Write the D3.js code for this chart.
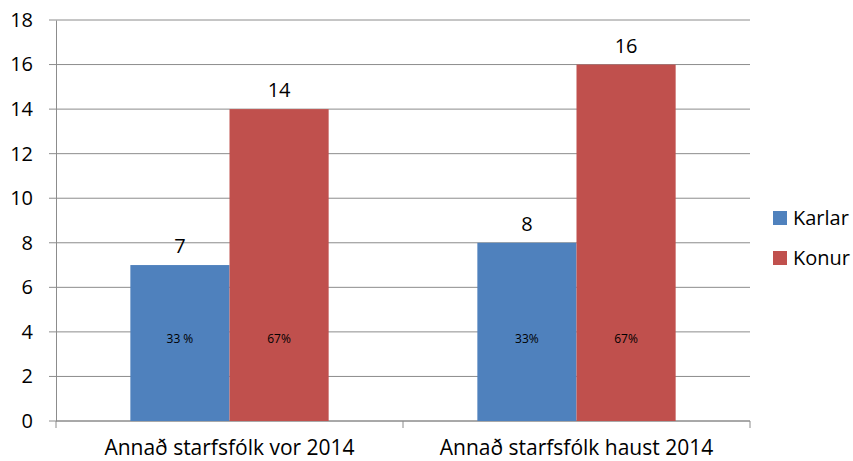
<!DOCTYPE html>
<html>
<head>
<meta charset="utf-8">
<script src="https://cdn.jsdelivr.net/npm/d3@7"></script>
<style>
  body { margin: 0; background: #fff; }
  text { font-family: "Open Sans", sans-serif; fill: #000; }
</style>
</head>
<body>
<div id="content"></div>
<script>
const categories = ["Annað starfsfólk vor 2014", "Annað starfsfólk haust 2014"];
const seriesNames = ["Karlar", "Konur"];
const karlar = [7, 8];
const konur = [14, 16];
const pctKarlar = ["33 %", "33%"];
const pctKonur = ["67%", "67%"];
const yTicks = [0, 2, 4, 6, 8, 10, 12, 14, 16, 18];
const colors = ["#4f81bd", "#c0504d"];

const w = 853, h = 461;
const plotL = 56, plotR = 750, plotT = 20, plotB = 421;

const svg = d3.select("#content").append("svg").attr("width", w).attr("height", h);

const x = d3.scaleBand().domain(categories).range([plotL, plotR]).padding(0);
const y = d3.scaleLinear().domain([0, 18]).range([plotB, plotT]);
const inner = d3.scaleBand().domain(seriesNames).range([0, x.bandwidth()]).paddingInner(0).paddingOuter(0.75);

// gridlines
svg.append("g").selectAll("line").data(yTicks).enter().append("line")
  .attr("x1", plotL - 7).attr("x2", plotR)
  .attr("y1", d => y(d)).attr("y2", d => y(d))
  .attr("stroke", "#8c8c8c").attr("stroke-width", 1);

// y axis
const yAxis = d3.axisLeft(y).tickValues(yTicks).tickSize(0).tickPadding(23);
const gy = svg.append("g").attr("transform", `translate(${plotL},0)`).call(yAxis);
gy.select(".domain").attr("stroke", "#8c8c8c");
gy.selectAll("text").style("font-size", "20px").style("font-family", "'Open Sans', sans-serif").attr("fill", "#000");

// x axis
const gx = svg.append("g").attr("transform", `translate(0,${plotB})`);
gx.append("line").attr("x1", plotL).attr("x2", plotR).attr("stroke", "#8c8c8c");
gx.selectAll(".tk").data([plotL, plotL + x.bandwidth(), plotR]).enter().append("line")
  .attr("x1", d => d).attr("x2", d => d).attr("y1", 0).attr("y2", 7).attr("stroke", "#8c8c8c");
gx.selectAll(".lbl").data(categories).enter().append("text")
  .attr("x", d => x(d) + x.bandwidth() / 2).attr("y", 34)
  .attr("text-anchor", "middle").style("font-size", "21px").text(d => d);

const data = categories.map((c, i) => ({
  cat: c,
  vals: [
    { s: seriesNames[0], v: karlar[i], p: pctKarlar[i] },
    { s: seriesNames[1], v: konur[i], p: pctKonur[i] }
  ]
}));

const groups = svg.selectAll(".grp").data(data).enter().append("g")
  .attr("transform", d => `translate(${x(d.cat)},0)`);

const bars = groups.selectAll("g").data(d => d.vals).enter().append("g");
bars.append("rect")
  .attr("x", d => inner(d.s)).attr("width", inner.bandwidth())
  .attr("y", d => y(d.v)).attr("height", d => plotB - y(d.v))
  .attr("fill", (d, i) => colors[i]);
bars.append("text")
  .attr("x", d => inner(d.s) + inner.bandwidth() / 2).attr("y", d => y(d.v) - 12)
  .attr("text-anchor", "middle").style("font-size", "20px").text(d => d.v);
bars.append("text")
  .attr("x", d => inner(d.s) + inner.bandwidth() / 2).attr("y", 343)
  .attr("text-anchor", "middle").style("font-size", "12px").text(d => d.p);

// legend
const legend = svg.append("g").selectAll("g").data(seriesNames).enter().append("g")
  .attr("transform", (d, i) => `translate(773,${211 + i * 40})`);
legend.append("rect").attr("width", 14).attr("height", 14).attr("fill", (d, i) => colors[i]);
legend.append("text").attr("x", 20).attr("y", 14).style("font-size", "20px").text(d => d);
</script>
</body>
</html>
